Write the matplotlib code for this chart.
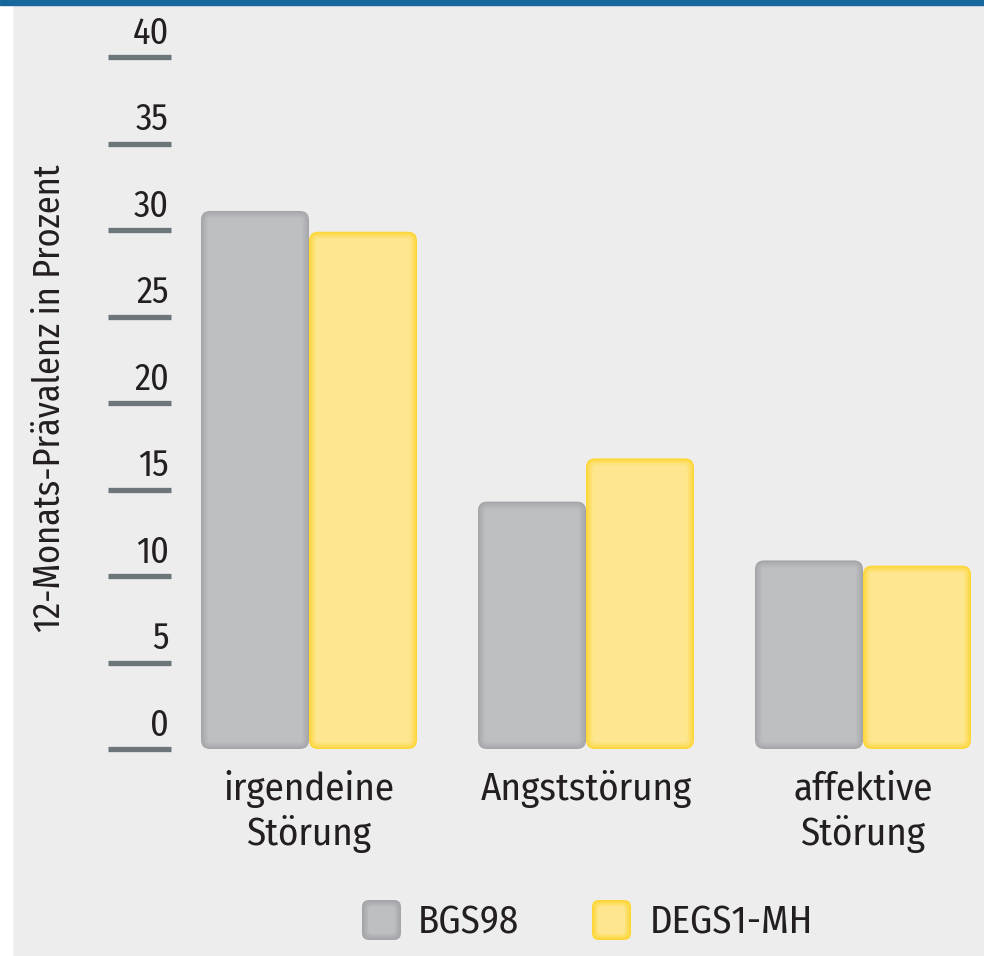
import matplotlib
matplotlib.use('Agg')
import matplotlib.pyplot as plt
import matplotlib.transforms as mtransforms
from matplotlib.patches import FancyBboxPatch, Rectangle

categories = [['irgendeine', 'Störung'], ['Angststörung'], ['affektive', 'Störung']]
series = ['BGS98', 'DEGS1-MH']
bgs98 = [31.1, 14.3, 10.9]
degs1 = [29.9, 16.8, 10.6]
yticks = [0, 5, 10, 15, 20, 25, 30, 35, 40]
ylabel = '12-Monats-Prävalenz in Prozent'

plt.rcParams['font.family'] = ['Fira Sans Condensed', 'DejaVu Sans']
TEXT = '#231f20'
BG = '#ededed'

# fill / edge colours per series (edge = darker glow)
styles = [('#bdbec2', '#a4a5a9'), ('#fde68f', '#fdd635')]

W, H = 984, 956
fig = plt.figure(figsize=(W / 100, H / 100), dpi=100)
fig.patch.set_facecolor(BG)
# white strip left, blue rule on top
fig.patches.append(Rectangle((0, 0), 12 / W, 1, transform=fig.transFigure, color='white', zorder=0))
fig.patches.append(Rectangle((0, 1 - 5 / H), 1, 5 / H, transform=fig.transFigure, color='#16679b', zorder=5))

left, right = 108, 984
y0, y40 = 749, 57
ax = fig.add_axes([left / W, (H - y0) / H, (right - left) / W, (y0 - y40) / H])
ax.set_facecolor('none')
px_per_x = 277
xmin = -(309 - left) / px_per_x
ax.set_xlim(xmin, xmin + (right - left) / px_per_x)
ax.set_ylim(0, 40)
for s in ax.spines.values():
    s.set_visible(False)
ax.set_xticks([])
ax.set_yticks([])

px_per_y = (y0 - y40) / 40
aspect = px_per_x / px_per_y


def blend(edge, fill, t):
    c = [(1 - t) * int(edge[k:k + 2], 16) + t * int(fill[k:k + 2], 16) for k in (1, 3, 5)]
    return '#%02x%02x%02x' % tuple(int(v) for v in c)


def rbar(x, h, w, fill, edge):
    # layered rounded rectangles to fake the soft inner glow
    layers = 8
    for i in range(layers):
        t = (i / (layers - 1)) ** 0.8
        inset = i * 1.0
        dx = inset / px_per_x
        dy = inset / px_per_y
        r = max(9 - inset, 2) / px_per_x
        p = FancyBboxPatch((x + dx, dy), w - 2 * dx, h - 2 * dy,
                           boxstyle='round,pad=0,rounding_size=%f' % r,
                           mutation_aspect=aspect, fc=blend(edge, fill, t), ec='none', zorder=2 + i)
        ax.add_patch(p)


bw = 108 / px_per_x
for i in range(len(categories)):
    rbar(i - bw, bgs98[i], bw, *styles[0])
    rbar(i, degs1[i], bw, *styles[1])

# y ticks as thick bars with labels on top
trans = mtransforms.blended_transform_factory(ax.transAxes, ax.transData)
tick_end = (171 - left) / (right - left)
for v in yticks:
    ax.plot([0, tick_end], [v, v], color='#6b757a', lw=3.8, solid_capstyle='butt',
            transform=trans, clip_on=False, zorder=1)
    ax.annotate(str(v), xy=(tick_end, v), xycoords=trans, xytext=(-1.5, 9.5),
                textcoords='offset points', ha='right', va='baseline',
                fontsize=26, color=TEXT, annotation_clip=False)

for i, lines in enumerate(categories):
    for j, line in enumerate(lines):
        ax.annotate(line, xy=(i, 0), xycoords='data', xytext=(0, -(51 + 45 * j) * 0.72),
                    textcoords='offset points', ha='center', va='baseline',
                    fontsize=28, color=TEXT, annotation_clip=False)

fig.text(50 / W, 1 - 398 / H, ylabel, rotation=90, ha='center', va='center',
         fontsize=26, color=TEXT)

# legend
leg = [(362, 418), (592, 650)]
for (sx, tx), name, (fill, edge) in zip(leg, series, styles):
    for i in range(5):
        t = i / 4
        ins = i * 1.5
        p = FancyBboxPatch(((sx + ins) / W, 1 - (940 - ins) / H), (39 - 2 * ins) / W, (40 - 2 * ins) / H,
                           boxstyle='round,pad=0,rounding_size=%f' % ((7 - ins * 0.5) / W),
                           mutation_aspect=W / H, transform=fig.transFigure,
                           fc=blend(edge, fill, t), ec='none', zorder=3)
        fig.patches.append(p)
    fig.text(tx / W, 1 - 933 / H, name, ha='left', va='baseline', fontsize=28, color=TEXT)

fig.savefig('out.png', dpi=100, facecolor=BG)
